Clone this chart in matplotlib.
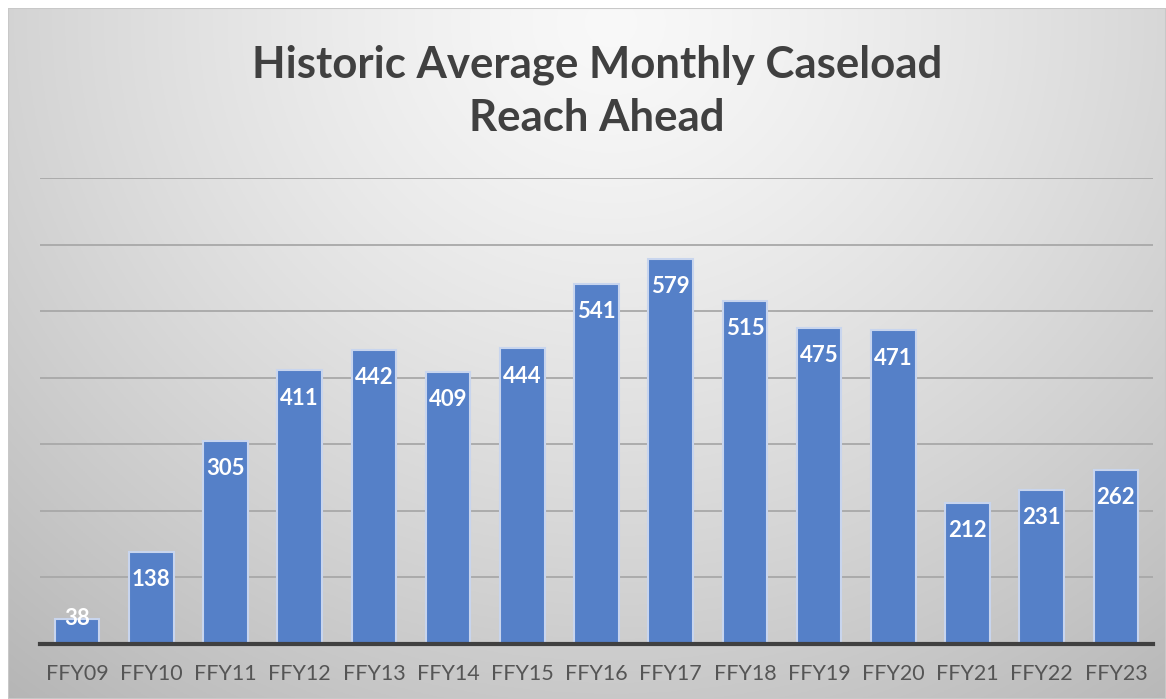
import numpy as np
import matplotlib
matplotlib.use("Agg")
import matplotlib.pyplot as plt
from matplotlib.patches import Rectangle

categories = ["FFY09", "FFY10", "FFY11", "FFY12", "FFY13", "FFY14", "FFY15", "FFY16",
              "FFY17", "FFY18", "FFY19", "FFY20", "FFY21", "FFY22", "FFY23"]
values = [38, 138, 305, 411, 442, 409, 444, 541, 579, 515, 475, 471, 212, 231, 262]
title = "Historic Average Monthly Caseload\nReach Ahead"

W, H = 1166, 699
fig = plt.figure(figsize=(W / 100, H / 100), dpi=100)
fig.patch.set_facecolor("white")

# background gradient panel
bg = fig.add_axes([8 / W, 0, 1 - 8 / W, 1 - 8 / H])
bg.set_axis_off()
yy, xx = np.mgrid[0:300, 0:600]
cx, cy = 0.52 * 600, 0.02 * 300
d = np.sqrt(((xx - cx) / 600) ** 2 + ((yy - cy) / 300 * 0.65) ** 2)
g = 0.975 - 0.34 * np.clip(d, 0, 1) ** 1.3
bg.imshow(np.dstack([g, g, g]), aspect="auto", extent=[0, 1, 0, 1], origin="upper")
bg.add_patch(Rectangle((0, 0), 1, 1, transform=bg.transAxes, fill=False,
                       edgecolor="#c8c8c8", linewidth=1.5))

ax = fig.add_axes([40 / W, 1 - 644 / H, (1153 - 40) / W, (644 - 178) / H])
ax.patch.set_alpha(0)
x = np.arange(len(categories))
ax.bar(x, values, width=0.6, color="#5580c8", edgecolor="#c8d5ee", linewidth=1.5, zorder=3)
ax.set_xlim(-0.5, len(categories) - 0.5)
ax.set_ylim(0, 700)
ax.set_yticks(np.arange(0, 701, 100))
ax.yaxis.grid(True, color="#a8a8a8", linewidth=1.3, zorder=0)
ax.tick_params(axis="y", left=False, labelleft=False)
ax.tick_params(axis="x", bottom=False, pad=11)
ax.set_xticks(x)
ax.set_xticklabels(categories, fontsize=15.5, color="#555555", family=["Lato", "DejaVu Sans"])
for s in ["top", "right", "left"]:
    ax.spines[s].set_visible(False)
ax.spines["bottom"].set_color("#404040")
ax.spines["bottom"].set_linewidth(3)
ax.spines["bottom"].set_zorder(4)

px_per_unit = (644 - 178) / 700
for xi, v in zip(x, values):
    off = -20 if v * px_per_unit > 50 else 0
    ax.annotate(str(v), (xi, v), xytext=(0, off), textcoords="offset points",
                ha="center", va="center", color="white", fontsize=16,
                fontweight="bold", family=["Lato", "DejaVu Sans"], zorder=5)

fig.text(0.512, 1 - 91 / H, title, ha="center", va="center", fontsize=31.5,
         fontweight="bold", color="#404040", linespacing=1.38,
         family=["Lato", "DejaVu Sans"])

fig.savefig("out.png", dpi=100)
